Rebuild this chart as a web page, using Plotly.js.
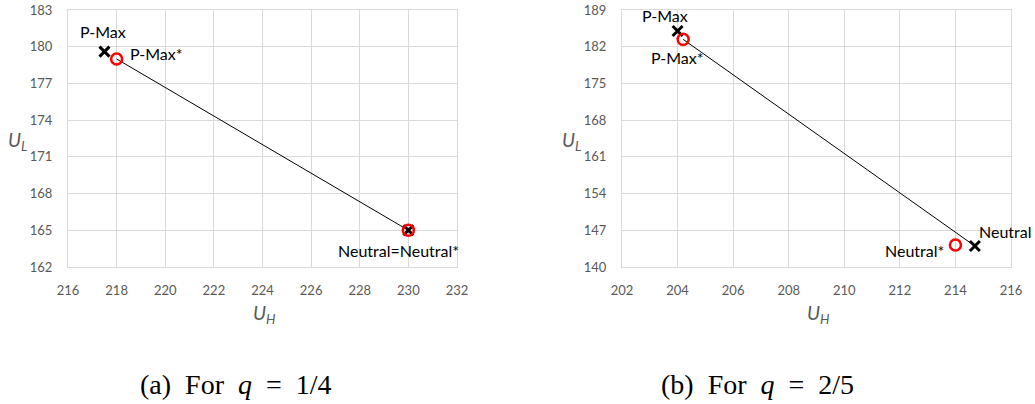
<!DOCTYPE html>
<html>
<head>
<meta charset="utf-8">
<script src="https://cdn.plot.ly/plotly-3.0.1.min.js"></script>
<style>html,body{margin:0;padding:0;background:#fff;}#chart{width:1035px;height:404px;}</style>
</head>
<body>
<div id="chart"></div>
<script>
// Panel (a): q = 1/4
const aLabels = ["P-Max", "Neutral"];
const aNashUH = [217.5, 230];
const aNashUL = [179.6, 165];
const aStarLabels = ["P-Max*", "Neutral*"];
const aStarUH = [218, 230];
const aStarUL = [179, 165];
const aXTicks = [216, 218, 220, 222, 224, 226, 228, 230, 232];
const aYTicks = [162, 165, 168, 171, 174, 177, 180, 183];

// Panel (b): q = 2/5
const bLabels = ["P-Max", "Neutral"];
const bNashUH = [204, 214.7];
const bNashUL = [185, 144];
const bStarLabels = ["P-Max*", "Neutral*"];
const bStarUH = [204.2, 214];
const bStarUL = [183.4, 144.2];
const bXTicks = [202, 204, 206, 208, 210, 212, 214, 216];
const bYTicks = [140, 147, 154, 161, 168, 175, 182, 189];

const captions = ["(a)&nbsp;&nbsp;For&nbsp;&nbsp;<i>q</i>&nbsp;&nbsp;=&nbsp;&nbsp;1/4", "(b)&nbsp;&nbsp;For&nbsp;&nbsp;<i>q</i>&nbsp;&nbsp;=&nbsp;&nbsp;2/5"];
const xTitle = "<i>U</i><sub><i>H</i></sub>";
const yTitle = "<i>U</i><sub><i>L</i></sub>";

const W = 1035, H = 404;
const gray = "#595959";
const grid = "#d9d9d9";
const tickFont = {family: "Lato, 'Open Sans', sans-serif", size: 13, color: gray};
const labelFont = {family: "Lato, 'Open Sans', sans-serif", size: 16, color: "#000"};
const titleFont = {family: "Lato, 'Open Sans', sans-serif", size: 19, color: gray};

function axisX(ticks, dom, anchor) {
  return {domain: dom, range: [ticks[0], ticks[ticks.length-1]], tickvals: ticks,
    showgrid: true, gridcolor: grid, gridwidth: 1, zeroline: false,
    showline: true, linecolor: grid, mirror: true, linewidth: 1,
    ticks: "outside", ticklen: 11, tickcolor: "rgba(0,0,0,0)",
    tickfont: tickFont, anchor: anchor, fixedrange: true};
}
function axisY(ticks, dom, anchor) {
  return {domain: dom, range: [ticks[0], ticks[ticks.length-1]], tickvals: ticks,
    showgrid: true, gridcolor: grid, gridwidth: 1, zeroline: false,
    showline: true, linecolor: grid, mirror: true, linewidth: 1,
    ticks: "outside", ticklen: 12, tickcolor: "rgba(0,0,0,0)",
    tickfont: tickFont, anchor: anchor, fixedrange: true};
}

function panelTraces(xa, ya, nUH, nUL, sUH, sUL) {
  return [
    {x: [sUH[0], nUH[1]], y: [sUL[0], nUL[1]], xaxis: xa, yaxis: ya, mode: "lines",
      line: {color: "#000", width: 1}, hoverinfo: "skip", showlegend: false},
    {x: nUH, y: nUL, xaxis: xa, yaxis: ya, mode: "markers",
      marker: {symbol: "x-thin-open", size: 10, color: "#000", line: {color: "#000", width: 3}}, showlegend: false},
    {x: sUH, y: sUL, xaxis: xa, yaxis: ya, mode: "markers",
      marker: {symbol: "circle-open", size: 11, color: "#ff0000", line: {color: "#ff0000", width: 2.5}}, showlegend: false}
  ];
}

const data = [
  ...panelTraces("x", "y", aNashUH, aNashUL, aStarUH, aStarUL),
  ...panelTraces("x2", "y2", bNashUH, bNashUL, bStarUH, bStarUL)
];

function lab(xref, yref, x, y, text, xs, ys) {
  return {xref: xref, yref: yref, x: x, y: y, text: text, showarrow: false,
    xanchor: "center", yanchor: "middle", xshift: xs, yshift: ys, font: labelFont};
}
function paperText(px, py, text, font) {
  return {xref: "paper", yref: "paper", x: px / W, y: 1 - py / H, text: text, showarrow: false,
    xanchor: "center", yanchor: "middle", font: font};
}
const capFont = {family: "'Liberation Serif', 'DejaVu Serif', serif", size: 28, color: "#000"};

const annotations = [
  lab("x", "y", aNashUH[0], aNashUL[0], aLabels[0], -1, 20),
  lab("x", "y", aStarUH[0], aStarUL[0], aStarLabels[0], 40, 5),
  lab("x", "y", aStarUH[1], aStarUL[1], aLabels[1] + "=" + aStarLabels[1], -10, -20),
  lab("x2", "y2", bNashUH[0], bNashUL[0], bLabels[0], -13, 15),
  lab("x2", "y2", bStarUH[0], bStarUL[0], bStarLabels[0], -6, -18),
  lab("x2", "y2", bNashUH[1], bNashUL[1], bLabels[1], 31, 15),
  lab("x2", "y2", bStarUH[1], bStarUL[1], bStarLabels[1], -41, -6),
  paperText(17, 141, yTitle, titleFont),
  paperText(264, 314, xTitle, titleFont),
  paperText(571, 141, yTitle, titleFont),
  paperText(818, 314, xTitle, titleFont),
  paperText(236, 384, captions[0], capFont),
  paperText(757, 384, captions[1], capFont)
];

const yDom = [1 - 267/H, 1 - 10/H];
const layout = {
  width: W, height: H,
  margin: {l: 0, r: 0, t: 0, b: 0},
  paper_bgcolor: "#fff", plot_bgcolor: "#fff",
  showlegend: false,
  xaxis: axisX(aXTicks, [68/W, 457/W], "y"),
  yaxis: axisY(aYTicks, yDom, "x"),
  xaxis2: axisX(bXTicks, [622/W, 1011/W], "y2"),
  yaxis2: axisY(bYTicks, yDom, "x2"),
  annotations: annotations
};

Plotly.newPlot("chart", data, layout, {displayModeBar: false, staticPlot: true});
</script>
</body>
</html>
